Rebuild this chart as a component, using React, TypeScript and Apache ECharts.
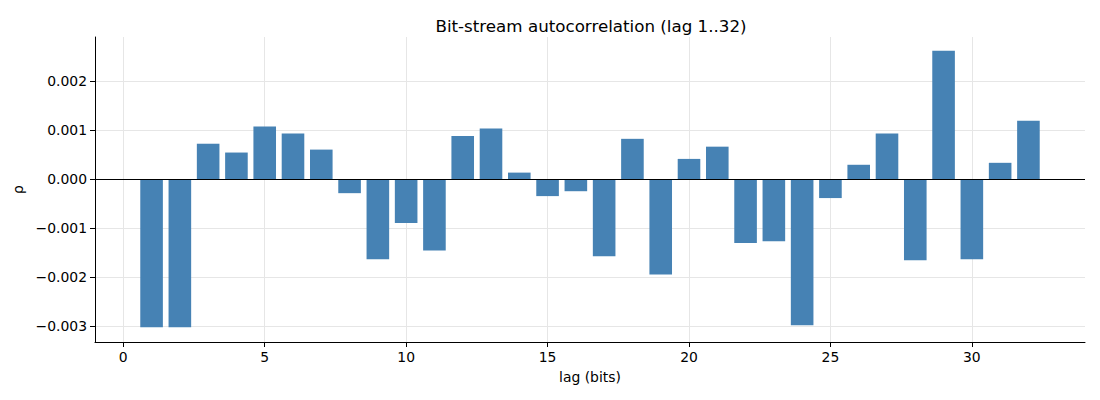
import React, { useEffect, useRef } from "react";
import * as echarts from "echarts";

// lag 1..32, autocorrelation estimates
const lags = [
  1, 2, 3, 4, 5, 6, 7, 8, 9, 10, 11, 12, 13, 14, 15, 16,
  17, 18, 19, 20, 21, 22, 23, 24, 25, 26, 27, 28, 29, 30, 31, 32,
];
const rho = [
  -0.00303, -0.00303, 0.00072, 0.00054, 0.00107, 0.00093, 0.0006, -0.00029,
  -0.00164, -0.0009, -0.00146, 0.00088, 0.00103, 0.00013, -0.00035, -0.00025,
  -0.00158, 0.00082, -0.00195, 0.00041, 0.00066, -0.00131, -0.00127, -0.00299,
  -0.00039, 0.00029, 0.00093, -0.00166, 0.00262, -0.00164, 0.00033, 0.00119,
];
const xTicks = [0, 5, 10, 15, 20, 25, 30];
const yTicks = [-0.003, -0.002, -0.001, 0, 0.001, 0.002];

const FONT = "DejaVu Sans";

const fmtY = (v: number) => v.toFixed(3).replace("-", "\u2212");

const App: React.FC = () => {
  const ref = useRef<HTMLDivElement | null>(null);

  useEffect(() => {
    if (!ref.current) return;
    const chart = echarts.init(ref.current, undefined, { renderer: "svg" });
    chart.setOption({
      animation: false,
      backgroundColor: "#fff",
      textStyle: { fontFamily: FONT },
      title: {
        text: "Bit-stream autocorrelation (lag 1..32)",
        left: 586,
        top: 12,
        textAlign: "center",
        textStyle: { fontFamily: FONT, fontSize: 16.7, fontWeight: "normal", color: "#000" },
      },
      grid: { left: 95, right: 15, top: 37, bottom: 58 },
      xAxis: {
        type: "value",
        min: -1,
        max: 34,
        name: "lag (bits)",
        nameLocation: "middle",
        nameGap: 28,
        nameTextStyle: { fontFamily: FONT, fontSize: 13.9, color: "#000" },
        axisLine: { show: true, onZero: false, lineStyle: { color: "#000", width: 1 } },
        axisTick: { show: true, length: 5, customValues: xTicks, lineStyle: { color: "#000" } },
        axisLabel: { customValues: xTicks, color: "#000", fontSize: 13.9, fontFamily: FONT, margin: 8 },
        splitLine: { show: true, customValues: xTicks, lineStyle: { color: "#e6e6e6", width: 1 } },
      },
      yAxis: {
        type: "value",
        min: -0.00333,
        max: 0.0029,
        name: "ρ",
        nameLocation: "middle",
        nameRotate: 90,
        nameGap: 66,
        nameTextStyle: { fontFamily: FONT, fontSize: 13.9, color: "#000" },
        axisLine: { show: true, onZero: false, lineStyle: { color: "#000", width: 1 } },
        axisTick: { show: true, length: 5, customValues: yTicks, lineStyle: { color: "#000" } },
        axisLabel: {
          customValues: yTicks,
          color: "#000",
          fontSize: 13.9,
          fontFamily: FONT,
          margin: 8,
          formatter: (v: number) => fmtY(v),
        },
        splitLine: { show: true, customValues: yTicks, lineStyle: { color: "#e6e6e6", width: 1 } },
      },
      series: [
        {
          type: "bar",
          data: lags.map((l, i) => [l, rho[i]]),
          barWidth: 22.6,
          itemStyle: { color: "#4682B4" },
          markLine: {
            silent: true,
            symbol: "none",
            label: { show: false },
            lineStyle: { color: "#000", width: 1, type: "solid" },
            data: [{ yAxis: 0 }],
          },
        },
      ],
    });
    return () => chart.dispose();
  }, []);

  return (
    <div
      ref={ref}
      style={{ position: "fixed", left: 0, top: 0, width: 1100, height: 400, background: "#fff" }}
    />
  );
};

export default App;
